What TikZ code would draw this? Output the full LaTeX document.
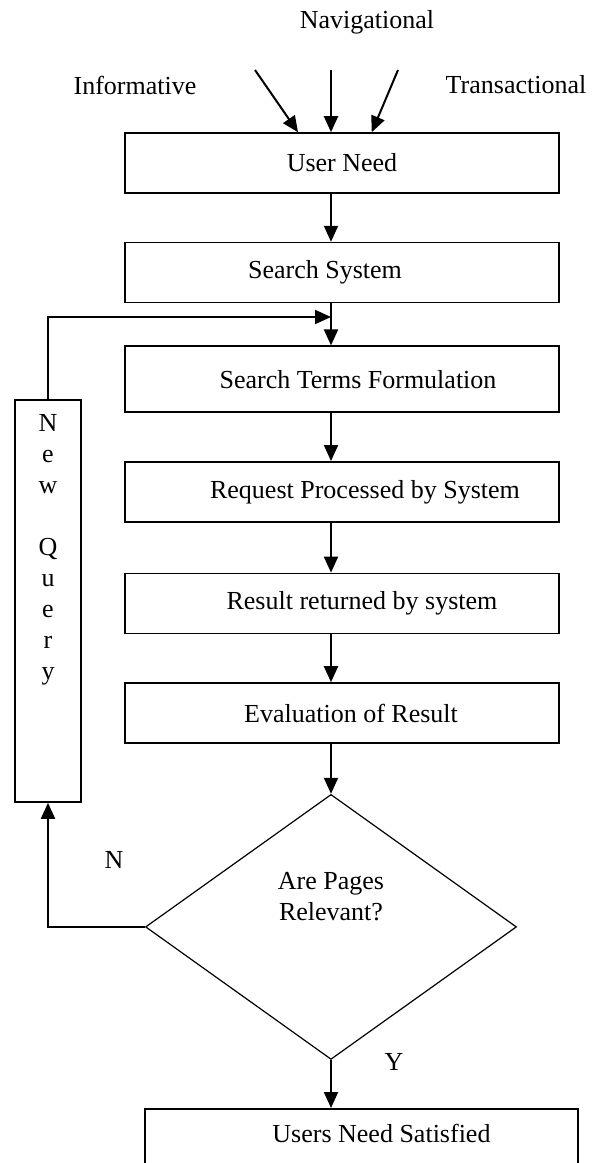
\documentclass[tikz,border=0pt]{standalone}
\usepackage{fontspec}
\setmainfont{Liberation Serif}
\usetikzlibrary{arrows.meta,positioning,shapes.geometric}

\begin{document}
\begin{tikzpicture}[x=0.5pt, y=-0.5pt, >={Triangle[length=8pt,width=7pt]}, node distance=24pt,
  every node/.style={font=\fontsize{13pt}{15.5pt}\selectfont},
  box/.style={draw, line width=0.8pt, minimum width=217pt, minimum height=30pt, inner sep=2pt},
  decision/.style={draw, diamond, line width=0.6pt, minimum width=185.5pt, minimum height=132.5pt, inner sep=0pt},
  link/.style={->, line width=1pt}]
\useasboundingbox (0,0) rectangle (592,1163);
% query types
\node (nav) at (367,22) {Navigational};
\node (inf) at (135,85) {Informative};
\node (tra) at (516,85) {Transactional};
\coordinate (a) at (255,70); \coordinate (b) at (331,70); \coordinate (c) at (398,70);
% main flow
\node[box] (un) at (342,163) {User Need};
\node[box, below=of un] (ss) {Search System\hspace*{17pt}};
\node[box, below=21pt of ss, minimum height=33pt] (st) {\hspace*{16pt}Search Terms Formulation};
\node[box, below=of st] (rp) {\hspace*{23pt}Request Processed by System};
\node[box, below=25pt of rp] (rr) {\hspace*{20pt}Result returned by system};
\node[box, below=of rr] (ev) {\hspace*{9pt}Evaluation of Result};
\node[decision, below=25pt of ev, xshift=-5.5pt] (dec) {};
\node[align=center] (q) at ([yshift=15pt]dec.center) {Are Pages\\Relevant?};
\node[box, below=of dec, xshift=15.25pt, minimum width=216.5pt, text height=13pt, text depth=20pt, inner ysep=4pt] (sat) {\hspace*{20pt}Users Need Satisfied};
% loop back
\node[draw, line width=0.8pt, minimum width=33pt, minimum height=201pt, inner sep=0pt] (nq) at (48,601) {};
\node[align=center, below=4.3pt of nq.north] (nqt) {N\\e\\w\\[15.5pt]Q\\u\\e\\r\\y};
\coordinate (j) at (331,317);
\node (no) at (114,860) {N};
\node (yes) at (394,1062) {Y};
\draw[link] (a) -- (un.145.7);
\draw[link] (b) -- (un.north -| b);
\draw[link] (c) -- (un.46);
\draw[link] (un.south -| dec) -- (ss.north -| dec);
\draw[link] (ss.south -| dec) -- (st.north -| dec);
\draw[link] (st.south -| dec) -- (rp.north -| dec);
\draw[link] (rp.south -| dec) -- (rr.north -| dec);
\draw[link] (rr.south -| dec) -- (ev.north -| dec);
\draw[link] (ev.south -| dec) -- (dec.north);
\draw[link] (dec.south) -- (sat.north -| dec);
\draw[link] (dec.west) -| (nq.south);
\draw[link] (nq.north) |- (j);
\end{tikzpicture}
\end{document}
